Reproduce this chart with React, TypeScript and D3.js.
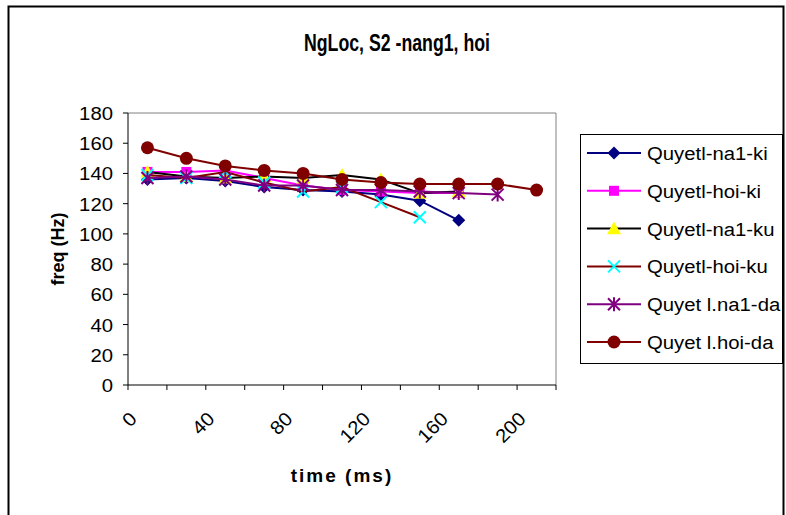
import React from "react";
import * as d3 from "d3";

const TITLE = "NgLoc, S2 -nang1, hoi";
const X_TITLE = "time (ms)";
const Y_TITLE = "freq (Hz)";

const times = [10, 30, 50, 70, 90, 110, 130, 150, 170, 190, 210];

const seriesNames = [
  "Quyetl-na1-ki",
  "Quyetl-hoi-ki",
  "Quyetl-na1-ku",
  "Quyetl-hoi-ku",
  "Quyet l.na1-da",
  "Quyet l.hoi-da",
];

const na1Ki = [136, 137, 135, 131, 129, 128, 126, 122, 109];
const hoiKi = [141, 141, 142, 137, 132, 129, 128, 127, 127];
const na1Ku = [141, 138, 137, 138, 137, 139, 136, 127, 128];
const hoiKu = [139, 137, 141, 134, 128, 131, 121, 111];
const na1Da = [137, 138, 136, 132, 132, 129, 129, 128, 127, 126];
const hoiDa = [157, 150, 145, 142, 140, 136, 134, 133, 133, 133, 129];

const seriesValues = [na1Ki, hoiKi, na1Ku, hoiKu, na1Da, hoiDa];

const lineColors = ["#000080", "#FF00FF", "#000000", "#800000", "#800080", "#800000"];
const markerFill = ["#000080", "#FF00FF", "#FFFF00", "#00FFFF", "#800080", "#800000"];
const markerTypes = ["diamond", "square", "triangle", "x", "star", "circle"];

const yTicks = [0, 20, 40, 60, 80, 100, 120, 140, 160, 180];
const xTicks = [0, 20, 40, 60, 80, 100, 120, 140, 160, 180, 200, 220];
const xLabels = [0, 40, 80, 120, 160, 200];

const FONT = "'Liberation Sans', Arial, sans-serif";

function Marker({ type, x, y, color }: { type: string; x: number; y: number; color: string }) {
  switch (type) {
    case "diamond": {
      const s = 6.5;
      return <path d={`M${x},${y - s}L${x + s},${y}L${x},${y + s}L${x - s},${y}Z`} fill={color} />;
    }
    case "square":
      return <rect x={x - 5} y={y - 5} width={10} height={10} fill={color} />;
    case "triangle": {
      const s = 7;
      return <path d={`M${x},${y - s}L${x + s},${y + s * 0.8}L${x - s},${y + s * 0.8}Z`} fill={color} />;
    }
    case "x": {
      const s = 6;
      return (
        <path
          d={`M${x - s},${y - s}L${x + s},${y + s}M${x - s},${y + s}L${x + s},${y - s}`}
          stroke={color}
          strokeWidth={2}
        />
      );
    }
    case "star": {
      const s = 6;
      return (
        <path
          d={`M${x - s},${y - s}L${x + s},${y + s}M${x - s},${y + s}L${x + s},${y - s}M${x},${y - s - 1}L${x},${y + s + 1}`}
          stroke={color}
          strokeWidth={2}
        />
      );
    }
    default:
      return <circle cx={x} cy={y} r={6.5} fill={color} />;
  }
}

export default function App() {
  const W = 786;
  const H = 515;
  const left = 128;
  const right = 556;
  const top = 113;
  const bottom = 385;

  const x = d3.scaleLinear().domain([0, 220]).range([left, right]);
  const y = d3.scaleLinear().domain([0, 180]).range([bottom, top]);

  const line = d3
    .line<number>()
    .x((_, i) => x(times[i]))
    .y((d) => y(d));

  const legendX = 580;
  const legendY = 134;
  const legendW = 202;
  const legendH = 229;
  const rowH = 37.8;

  return (
    <svg
      width={W}
      height={H}
      style={{ position: "absolute", left: 0, top: 0, background: "#fff" }}
      fontFamily={FONT}
    >
      <rect x={0} y={0} width={W} height={H} fill="#fff" />
      {/* chart area border */}
      <rect x={8.5} y={6.5} width={775} height={520} fill="none" stroke="#000" strokeWidth={2} />

      <text
        x={397}
        y={51}
        textAnchor="middle"
        fontSize={23}
        fontWeight="bold"
        textLength={186}
        lengthAdjust="spacingAndGlyphs"
      >
        {TITLE}
      </text>

      {/* plot area border */}
      <path d={`M${left},${top}H${right}V${bottom}`} fill="none" stroke="#808080" strokeWidth={1} />

      {/* y axis */}
      <line x1={left} x2={left} y1={top} y2={bottom} stroke="#000" />
      {yTicks.map((t) => (
        <g key={t}>
          <line x1={left - 5} x2={left} y1={y(t)} y2={y(t)} stroke="#000" />
          <text
            transform={`translate(${left - 15},${y(t) + 7}) scale(1.07,1)`}
            textAnchor="end"
            fontSize={19}
          >
            {t}
          </text>
        </g>
      ))}

      {/* x axis */}
      <line x1={left} x2={right} y1={bottom} y2={bottom} stroke="#000" />
      {xTicks.map((t) => (
        <line key={t} x1={x(t)} x2={x(t)} y1={bottom} y2={bottom + 5} stroke="#000" />
      ))}
      {xLabels.map((t) => (
        <text
          key={t}
          transform={`translate(${x(t) + 10},${bottom + 35}) rotate(-45) scale(1.07,1)`}
          textAnchor="end"
          fontSize={19}
        >
          {t}
        </text>
      ))}

      <text x={342} y={482} textAnchor="middle" fontSize={19} fontWeight="bold" letterSpacing={2}>
        {X_TITLE}
      </text>
      <text
        transform={`translate(64,249) rotate(-90)`}
        textAnchor="middle"
        fontSize={18}
        fontWeight="bold"
      >
        {Y_TITLE}
      </text>

      {/* series */}
      {seriesValues.map((vals, si) => (
        <g key={si}>
          <path d={line(vals) || ""} fill="none" stroke={lineColors[si]} strokeWidth={2} />
          {vals.map((v, i) => (
            <Marker key={i} type={markerTypes[si]} x={x(times[i])} y={y(v)} color={markerFill[si]} />
          ))}
        </g>
      ))}

      {/* legend */}
      <rect x={legendX + 0.5} y={legendY + 0.5} width={legendW} height={legendH} fill="#fff" stroke="#000" />
      {seriesNames.map((name, i) => {
        const cy = legendY + 19 + i * rowH;
        return (
          <g key={name}>
            <line x1={587} x2={641} y1={cy} y2={cy} stroke={lineColors[i]} strokeWidth={2} />
            <Marker type={markerTypes[i]} x={614} y={cy} color={markerFill[i]} />
            <text transform={`translate(647,${cy + 7}) scale(1.07,1)`} fontSize={19}>
              {name}
            </text>
          </g>
        );
      })}
    </svg>
  );
}
